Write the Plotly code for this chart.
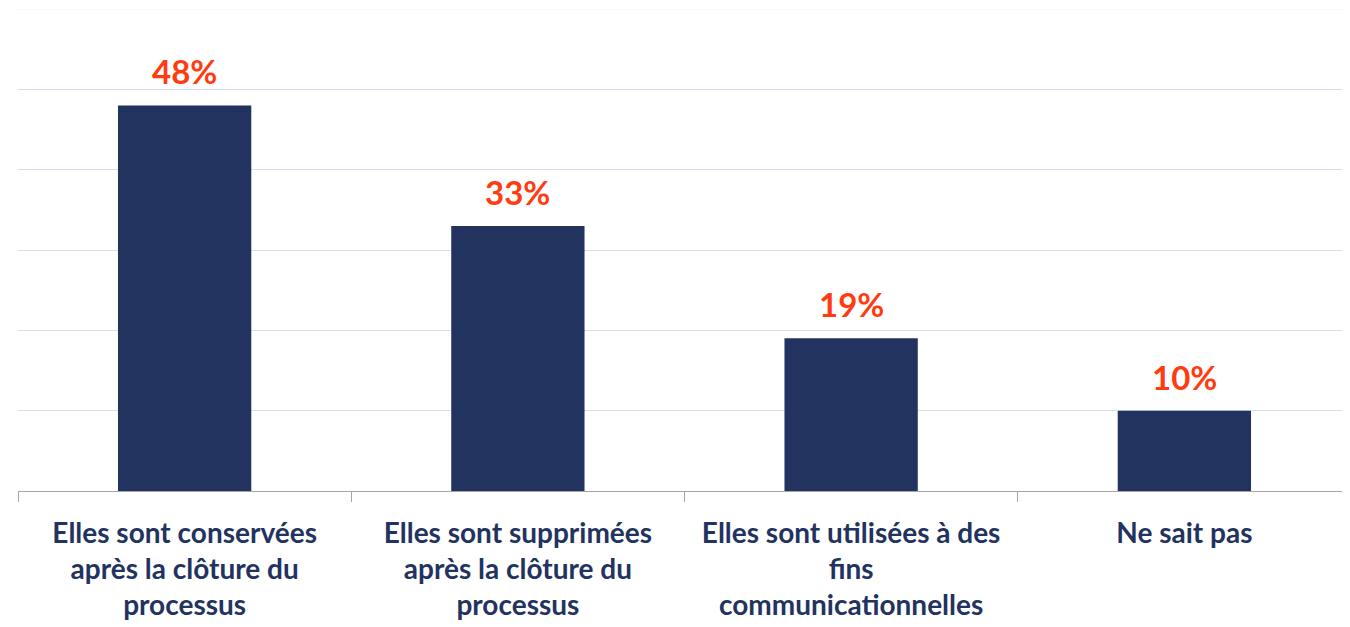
import plotly.graph_objects as go

categories = [
    "Elles sont conservées<br>après la clôture du<br>processus",
    "Elles sont supprimées<br>après la clôture du<br>processus",
    "Elles sont utilisées à des<br>fins<br>communicationnelles",
    "Ne sait pas",
]
values = [48, 33, 19, 10]
value_labels = ["48%", "33%", "19%", "10%"]

NAVY = "#22335f"
RED = "#ff3b0f"

fig = go.Figure()
fig.add_trace(
    go.Bar(
        x=categories,
        y=values,
        marker={"color": NAVY, "line": {"width": 0}},
        hoverinfo="skip",
    )
)

for cat, val, lab in zip(categories, values, value_labels):
    fig.add_annotation(
        x=cat,
        y=val,
        text=f"<b>{lab}</b>",
        showarrow=False,
        yanchor="bottom",
        yshift=12,
        font={"family": "Lato", "size": 33, "color": RED},
    )

# faint frame line at the top of the value range
fig.add_shape(
    type="line", xref="paper", x0=0, x1=1, yref="y", y0=60, y1=60,
    line={"color": "#eef1f8", "width": 1},
)

# page body adds an 8px offset, margins are compensated for it
fig.update_layout(
    width=1350,
    height=627,
    margin={"l": 10, "r": 7, "t": 1, "b": 144, "autoexpand": False},
    paper_bgcolor="white",
    plot_bgcolor="white",
    showlegend=False,
    bargap=0.6,
    font={"family": "Lato", "color": NAVY},
)
fig.update_xaxes(
    automargin=False,
    showline=True,
    linecolor="#a6a6a6",
    linewidth=1,
    ticks="outside",
    ticklen=10,
    tickcolor="#a6a6a6",
    tickson="boundaries",
    ticklabelstandoff=17,
    tickfont={"family": "Lato", "size": 28, "color": NAVY, "weight": "bold"},
)
fig.update_yaxes(
    automargin=False,
    range=[0, 60],
    dtick=10,
    showticklabels=False,
    showgrid=True,
    gridcolor="#d5deef",
    gridwidth=1,
    zeroline=False,
)

fig.write_html("out.html")
